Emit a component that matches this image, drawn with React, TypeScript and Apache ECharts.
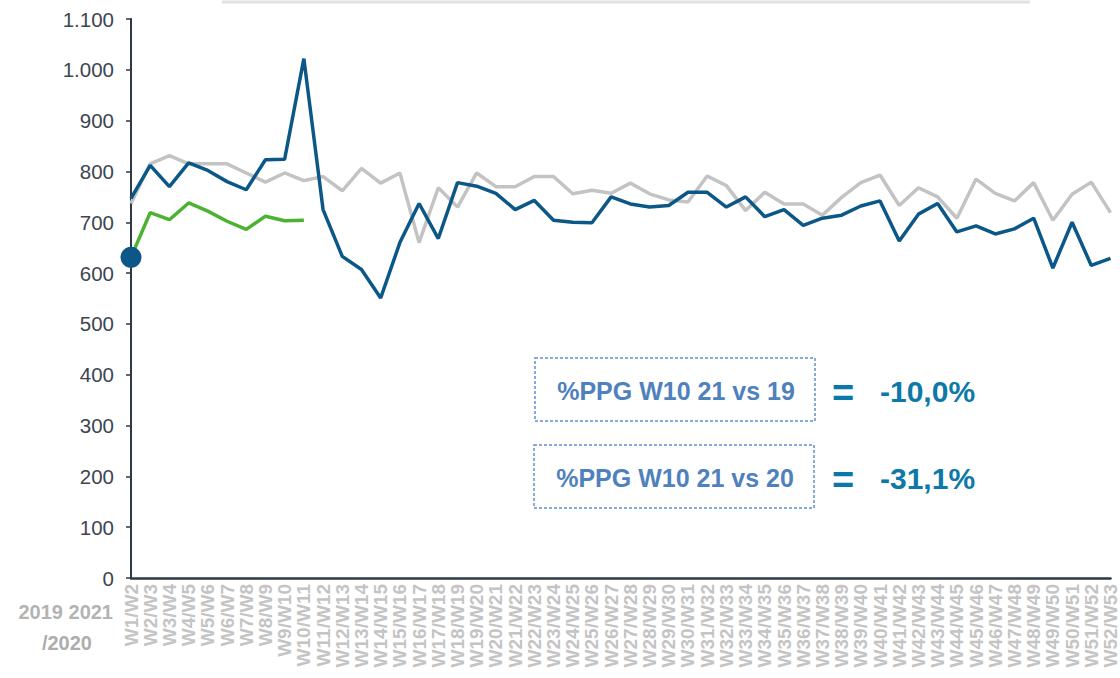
import React, { useEffect, useRef } from "react";
import * as echarts from "echarts";

const categories: string[] = [
  "W1/W2", "W2/W3", "W3/W4", "W4/W5", "W5/W6", "W6/W7", "W7/W8", "W8/W9", "W9/W10", "W10/W11",
  "W11/W12", "W12/W13", "W13/W14", "W14/W15", "W15/W16", "W16/W17", "W17/W18", "W18/W19", "W19/W20", "W20/W21",
  "W21/W22", "W22/W23", "W23/W24", "W24/W25", "W25/W26", "W26/W27", "W27/W28", "W28/W29", "W29/W30", "W30/W31",
  "W31/W32", "W32/W33", "W33/W34", "W34/W35", "W35/W36", "W36/W37", "W37/W38", "W38/W39", "W39/W40", "W40/W41",
  "W41/W42", "W42/W43", "W43/W44", "W44/W45", "W45/W46", "W46/W47", "W47/W48", "W48/W49", "W49/W50", "W50/W51",
  "W51/W52", "W52/W53",
];

const values2019: number[] = [
  737, 815, 831, 815, 815, 815, 797, 779, 797, 782,
  790, 762, 806, 777, 797, 660, 768, 730, 797, 770,
  770, 790, 790, 756, 763, 757, 777, 756, 744, 740,
  791, 772, 723, 759, 736, 736, 714, 749, 778, 793,
  733, 768, 750, 708, 785, 757, 742, 778, 704, 755,
  779, 719,
];

const values2020: number[] = [
  747, 812, 770, 817, 802, 780, 764, 823, 824, 1022,
  725, 633, 607, 551, 660, 737, 668, 778, 771, 757,
  725, 743, 704, 700, 699, 750, 736, 730, 733, 759,
  759, 730, 750, 711, 725, 694, 708, 714, 732, 742,
  663, 716, 737, 681, 693, 677, 687, 708, 610, 700,
  615, 629,
];

const values2021: number[] = [631, 719, 705, 738, 722, 702, 686, 712, 703, 704];

const startDot: number[] = [631];

const yTicks = { min: 0, max: 1100, interval: 100 };

const notes = [
  { label: "%PPG W10 21 vs 19", result: "-10,0%" },
  { label: "%PPG W10 21 vs 20", result: "-31,1%" },
];

const yearLabels = ["2019 2021", "/2020"];

const FONT = "'Liberation Sans', Arial, Helvetica, sans-serif";

export default function App() {
  const ref = useRef<HTMLDivElement>(null);

  useEffect(() => {
    document.body.style.margin = "0";
    if (!ref.current) return;
    const chart = echarts.init(ref.current, undefined, { renderer: "svg" });

    const boxes = [
      { x: 535, y: 358, w: 280, h: 63 },
      { x: 534, y: 445, w: 280, h: 63 },
    ];

    const graphics: any[] = [
      {
        type: "line",
        shape: { x1: 222, y1: 2, x2: 1030, y2: 2 },
        style: { stroke: "#dfe3e3", lineWidth: 3 },
        silent: true,
      },
      {
        type: "text",
        style: {
          text: yearLabels[0], x: 113, y: 612, align: "right", verticalAlign: "middle",
          fontSize: 20, fontWeight: "bold", fontFamily: FONT, fill: "#b3b3b3",
        },
      },
      {
        type: "text",
        style: {
          text: yearLabels[1], x: 92, y: 643, align: "right", verticalAlign: "middle",
          fontSize: 20, fontWeight: "bold", fontFamily: FONT, fill: "#adadad",
        },
      },
    ];

    notes.forEach((n, i) => {
      const b = boxes[i];
      const cy = b.y + b.h / 2 + 1;
      graphics.push({
        type: "rect",
        shape: { x: b.x, y: b.y, width: b.w, height: b.h },
        style: { fill: "#ffffff", stroke: "#5f8fd0", lineWidth: 1.5, lineDash: [3, 2] },
      });
      graphics.push({
        type: "text",
        style: {
          text: n.label, x: b.x + b.w / 2 + 1, y: cy, align: "center", verticalAlign: "middle",
          fontSize: 25, fontWeight: "bold", fontFamily: FONT, fill: "#4f81bd",
        },
      });
      graphics.push({
        type: "text",
        style: {
          text: "=", x: 843, y: cy + 2, align: "center", verticalAlign: "middle",
          fontSize: 38, fontWeight: "bold", fontFamily: FONT, fill: "#0a78a8",
        },
      });
      graphics.push({
        type: "text",
        style: {
          text: n.result, x: 880, y: cy + 1, align: "left", verticalAlign: "middle",
          fontSize: 30, fontWeight: "bold", fontFamily: FONT, fill: "#0d79a8",
        },
      });
    });

    chart.setOption({
      animation: false,
      grid: { left: 131, right: 9, top: 19, bottom: 100, containLabel: false },
      xAxis: {
        type: "category",
        data: categories,
        boundaryGap: false,
        axisLine: { lineStyle: { color: "#2b3a44", width: 2.5 } },
        axisTick: { show: false },
        axisLabel: {
          interval: 0,
          rotate: 90,
          margin: 6,
          fontSize: 19,
          fontWeight: "bold",
          fontFamily: FONT,
          color: "#c4c4c4",
        },
        splitLine: { show: false },
      },
      yAxis: {
        type: "value",
        min: yTicks.min,
        max: yTicks.max,
        interval: yTicks.interval,
        axisLine: { show: true, lineStyle: { color: "#2b3a44", width: 2 } },
        axisTick: { show: true, length: 5, lineStyle: { color: "#2b3a44", width: 1.5 } },
        splitLine: { show: false },
        axisLabel: {
          margin: 17,
          fontSize: 20.5,
          fontFamily: FONT,
          color: "#3d4650",
          formatter: (v: number) => v.toString().replace(/\B(?=(\d{3})+(?!\d))/g, "."),
        },
      },
      series: [
        {
          name: "2019",
          type: "line",
          data: values2019,
          symbol: "none",
          lineStyle: { color: "#c3c3c3", width: 3.5 },
          z: 2,
        },
        {
          name: "2020",
          type: "line",
          data: values2020,
          symbol: "none",
          lineStyle: { color: "#0b5787", width: 3.5 },
          z: 3,
        },
        {
          name: "2021",
          type: "line",
          data: values2021,
          symbol: "none",
          lineStyle: { color: "#4cb231", width: 3.5 },
          z: 4,
        },
        {
          name: "start",
          type: "scatter",
          data: startDot,
          symbol: "circle",
          symbolSize: 21,
          itemStyle: { color: "#0b5787", opacity: 1 },
          z: 5,
        },
      ],
      graphic: graphics,
    });

    return () => chart.dispose();
  }, []);

  return <div ref={ref} style={{ width: 1120, height: 678 }} />;
}
